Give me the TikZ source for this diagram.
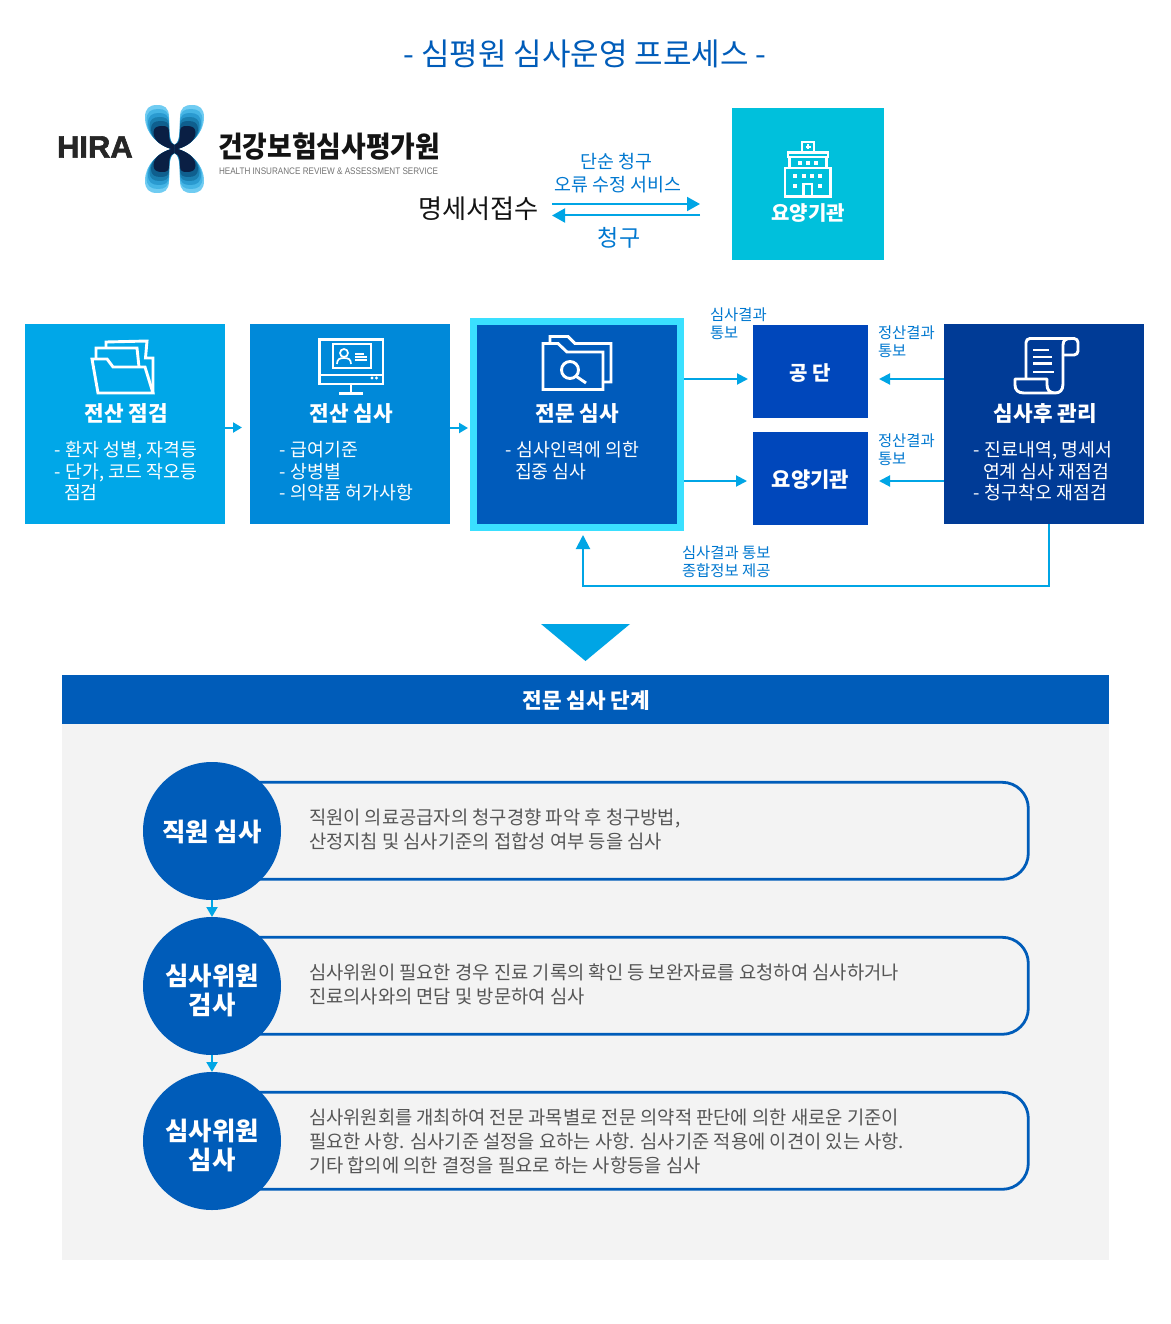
\documentclass[tikz,border=0pt]{standalone}
\usepackage{fontspec}
\usepackage{graphicx}
\setmainfont{Noto Sans CJK KR}
\newfontfamily\hirafont[BoldFeatures={FakeBold=2}]{Liberation Sans}
\usetikzlibrary{arrows.meta}
\definecolor{cyanline}{HTML}{00A5E5}
\definecolor{boxa}{HTML}{00A7E8}
\definecolor{boxb}{HTML}{0089D9}
\definecolor{boxc}{HTML}{005BBB}
\definecolor{boxd}{HTML}{0047BB}
\definecolor{boxe}{HTML}{003B96}
\definecolor{boxtop}{HTML}{00C0DC}
\definecolor{borderc}{HTML}{3AE0FF}
\definecolor{titleblue}{HTML}{005CB9}
\definecolor{labelblue}{HTML}{0078D0}
\definecolor{panelgray}{HTML}{F3F3F3}
\definecolor{bodygray}{HTML}{555555}
\definecolor{loga}{HTML}{70CCF2}
\definecolor{logb}{HTML}{45B5E5}
\definecolor{logc}{HTML}{2A9AD0}
\definecolor{logd}{HTML}{1A7FB0}
\definecolor{loge}{HTML}{0F5F8E}
\definecolor{logf}{HTML}{0A1F44}
\tikzset{
  sq/.style={draw=none,inner sep=0pt,outer sep=0pt,anchor=north west},
  txt/.style={inner sep=0pt,outer sep=0pt,anchor=west,align=left},
  ctxt/.style={inner sep=0pt,outer sep=0pt,anchor=center,align=center},
  boxtitle/.style={ctxt,text=white,font=\fontsize{21.3}{25}\selectfont\bfseries},
  boxbody/.style={txt,text=white,font=\fontsize{18.3}{21.5}\selectfont},
  small/.style={txt,text=labelblue,font=\fontsize{15.4}{18}\selectfont},
  body/.style={txt,text=bodygray,font=\fontsize{18.75}{24}\selectfont},
  circ/.style={circle,fill=titleblue,minimum size=138pt,inner sep=0pt,outer sep=0pt},
  circtext/.style={ctxt,text=white,font=\fontsize{25.4}{29.5}\selectfont\bfseries},
  frame/.style={rectangle,draw=titleblue,line width=2.8pt,rounded corners=26pt,inner sep=0pt,outer sep=0pt,anchor=north west,minimum width=828.3pt,minimum height=97pt},
  conn/.style={draw=cyanline,line width=2pt,-{Triangle[length=11pt,width=11pt]}},
  thin conn/.style={draw=cyanline,line width=2pt,-{Triangle[length=13pt,width=14pt]}},
  ico/.style={draw=white,line width=2.9pt,line join=miter},
  icor/.style={draw=white,line width=2.9pt,line join=round,rounded corners=4pt},
}
\begin{document}
\begin{tikzpicture}[x=1pt,y=-1pt]
\useasboundingbox[fill=white] (0,0) rectangle (1170,1324);
% title
\node[ctxt,text=titleblue,font=\fontsize{31}{36}\selectfont] (title) at (585,53.5) {- 심평원 심사운영 프로세스 -};
% logo
\node[txt,font=\fontsize{31}{34}\hirafont\bfseries,text=black!85] (hira) at (57,147) {HIRA};
\begin{scope}[shift={(174.5,149)}]
\foreach \hw/\hh/\col in {29.5/44/loga,28/40/logb,26.5/36/logc,25/32/logd,23.5/28/loge,21/23/logf}{
  \foreach \sx/\sy in {1/1,-1/1,1/-1,-1/-1}{
    \fill[\col,xscale=\sx,yscale=\sy] (-3,0)
      .. controls ({-0.55*\hw},{-0.1*\hh}) and ({-\hw},{-0.35*\hh}) .. ({-\hw},{-0.72*\hh})
      .. controls ({-\hw},{-0.92*\hh}) and ({-0.85*\hw},{-\hh}) .. ({-0.6*\hw},{-\hh})
      .. controls ({-0.35*\hw},{-\hh}) and (-5.5,{-0.95*\hh}) .. (-5.5,{-0.72*\hh})
      .. controls (-5.5,{-0.4*\hh}) and (-5,-6) .. (0,-4) -- (0,0) -- cycle;
  }
}
\end{scope}
\node[txt,font=\fontsize{29}{32}\selectfont\bfseries,text=black!92] (hiraname) at (218,146.5) {\scalebox{0.925}[1]{건강보험심사평가원}};
\node[txt,font=\fontsize{9.5}{11}\hirafont,text=black!55] (hirasub) at (219,171) {\scalebox{0.855}[1]{HEALTH INSURANCE REVIEW \& ASSESSMENT SERVICE}};
% top row
\node[ctxt,text=black!92,font=\fontsize{26.2}{30}\selectfont] (receipt) at (478.5,209) {명세서접수};
\node[sq,fill=boxtop,minimum width=152pt,minimum height=152pt] (topbox) at (732,108) {};
\node[ctxt,text=labelblue,font=\fontsize{18.4}{22.5}\selectfont] (simple) at (618.3,173) {단순 청구\hspace*{4pt}\\오류 수정 서비스};
\node[ctxt,text=labelblue,font=\fontsize{23}{26}\selectfont] (claim) at (619,237.5) {청구};
\coordinate (ta) at (552,204); \coordinate (tb) at (700,204);
\coordinate (tc) at (700,215.5); \coordinate (td) at (552,215.5);
\draw[thin conn] (ta) -- (tb);
\draw[thin conn] (tc) -- (td);
\node[ctxt,text=white,font=\fontsize{20}{24}\selectfont\bfseries] (toplabel) at (808,213) {요양기관};
% hospital icon
\draw[ico,line width=2.5pt] (802,152) rectangle (814,142);
\draw[white,line width=1.3pt] (808,144.5)--(808,149.5) (805.5,147)--(810.5,147);
\draw[ico,line width=2.5pt] (788,152.5) rectangle (828,157);
\draw[ico,line width=2.5pt] (789.5,157) -- (789.5,168) (826.5,157) -- (826.5,168);
\draw[ico,line width=2.5pt] (785,168) rectangle (830.5,196.5);
\draw[ico,line width=2.5pt] (803.5,196.5) -- (803.5,184) -- (812,184) -- (812,196.5);
\foreach \px/\py in {800/163,808/163,816/163,795/176.5,803.5/176.5,812/176.5,820/176.5,795/186,820/186}
  \fill[white] (\px-2,\py-2) rectangle (\px+2,\py+2);
% main boxes
\node[sq,fill=boxa,minimum width=200pt,minimum height=200pt] (b1) at (25,324) {};
\node[sq,fill=boxb,minimum width=200pt,minimum height=200pt] (b2) at (250,324) {};
\node[sq,fill=boxc,draw=borderc,line width=7pt,minimum width=207pt,minimum height=206pt] (b3) at (473.5,321.5) {};
\node[sq,fill=boxd,minimum width=115pt,minimum height=93pt] (b4) at (753,325) {};
\node[sq,fill=boxd,minimum width=115pt,minimum height=93pt] (b5) at (753,432) {};
\node[sq,fill=boxe,minimum width=200pt,minimum height=200pt] (b6) at (944,324) {};
% box texts
\node[boxtitle] (t1) at (126.3,413.5) {전산 점검};
\node[boxbody] (d1) at (54,471.5) {-\hspace{1.5pt} 환자 성별, 자격등\\-\hspace{1.5pt} 단가, 코드 작오등\\\hspace*{10pt}점검};
\node[boxtitle] (t2) at (351.5,413.5) {전산 심사};
\node[boxbody] (d2) at (279,471.5) {-\hspace{1.5pt} 급여기준\\-\hspace{1.5pt} 상병별\\-\hspace{1.5pt} 의약품 허가사항};
\node[boxtitle] (t3) at (577.5,413.5) {전문 심사};
\node[boxbody] (d3) at (505,460.5) {-\hspace{1.5pt} 심사인력에 의한\\\hspace*{10pt}집중 심사};
\node[boxtitle] (t6) at (1045.3,413.5) {심사후 관리};
\node[boxbody] (d6) at (973,471.5) {-\hspace{1.5pt} 진료내역, 명세서\\\hspace*{10pt}연계 심사 재점검\\-\hspace{1.5pt} 청구착오 재점검};
\node[ctxt,text=white,font=\fontsize{20}{24}\selectfont\bfseries] (t4) at (810,373) {공 단};
\node[ctxt,text=white,font=\fontsize{21}{25}\selectfont\bfseries] (t5) at (810.5,480) {요양기관};
% small labels
\node[small] (l1) at (710,324) {심사결과\\통보};
\node[small] (l2) at (878,342) {정산결과\\통보};
\node[small] (l3) at (878,450) {정산결과\\통보};
\node[small] (l4) at (682,562) {심사결과 통보\\종합정보 제공};
% connectors
\coordinate (e1) at (242,427.5); \coordinate (s1) at (225,427.5);
\coordinate (e2) at (468,428); \coordinate (s2) at (450,428);
\draw[conn,-{Triangle[length=9pt,width=10pt]}] (s1) -- (e1);
\draw[conn,-{Triangle[length=9pt,width=10pt]}] (s2) -- (e2);
\coordinate (s3) at (684,379); \coordinate (e3) at (748,379);
\coordinate (s4) at (684,481); \coordinate (e4) at (747,481);
\coordinate (s5) at (944,379); \coordinate (e5) at (879,379);
\coordinate (s6) at (944,481); \coordinate (e6) at (879,481);
\draw[conn] (s3) -- (e3);
\draw[conn] (s4) -- (e4);
\draw[conn] (s5) -- (e5);
\draw[conn] (s6) -- (e6);
\coordinate (fa) at (1049,524); \coordinate (fb) at (1049,586);
\coordinate (fc) at (583,586); \coordinate (fd) at (583,535);
\draw[conn,-{Triangle[length=14pt,width=14pt]}] (fa) -- (fb) -- (fc) -- (fd);
% folder icon
\draw[ico] (92,359) -- (107,359) -- (113,367) -- (145,367) -- (153,393) -- (98,393) -- cycle;
\draw[ico] (96,358) -- (96,348) -- (137,348) -- (139,367);
\draw[ico] (106,348) -- (106,342) -- (147,341) -- (145.5,358) -- (153,358) -- (153,393);
% monitor icon
\draw[ico] (319.5,339.5) rectangle (383,384);
\draw[ico] (319.5,375) -- (383,375);
\draw[ico,line width=1.9pt] (333,344) rectangle (371,368);
\draw[ico,line width=1.7pt] (344,353) circle (4);
\draw[ico,line width=1.7pt] (337,364) .. controls (337,359) and (340,358) .. (344,358) .. controls (348,358) and (351,359) .. (351,364);
\draw[ico,line width=1.3pt] (355,354) -- (364,354) (355,357) -- (367,357) (355,360) -- (367,360);
\fill[white] (372,378) circle (1.6) (376.5,378) circle (1.6);
\draw[ico] (351,384) -- (351,393) (339,393.5) -- (363,393.5);
% search folder icon
\draw[ico] (550,342) -- (550,336.5) -- (568,336.5) -- (575,343.5) -- (611,343.5) -- (611,382) -- (603,382);
\draw[ico] (543,343.5) -- (558,343.5) -- (567,352) -- (603,352) -- (603,389.5) -- (543,389.5) -- cycle;
\draw[ico] (570,370) circle (8.5);
\draw[ico] (576.5,376.5) -- (586,383);
% scroll icon
\draw[icor] (1026,379) -- (1026,338.5) -- (1078,338.5) -- (1078,355) -- (1063,355);
\draw[ico,line join=round] (1063,355) -- (1063,345) .. controls (1063,340) and (1066,338.5) .. (1071,338.5);
\draw[ico,line join=round] (1063,355) -- (1063,384) .. controls (1063,390) and (1060,393) .. (1055,393) -- (1024,393) .. controls (1018,393) and (1015,390) .. (1015,385) -- (1015,379) -- (1047,379) -- (1047,385) .. controls (1047,390) and (1050,393) .. (1055,393);
\draw[ico,line width=2.4pt] (1033,350) -- (1049,350) (1033,357) -- (1052,357) (1033,363.5) -- (1052,363.5) (1033,372) -- (1054,372);
% triangle
\fill[cyanline] (541,624) -- (630,624) -- (585.5,661) -- cycle;
% panel
\node[sq,fill=panelgray,minimum width=1047pt,minimum height=536pt] (panel) at (62,724) {};
\node[sq,fill=titleblue,minimum width=1047pt,minimum height=49pt] (banner) at (62,675) {};
\node[ctxt,text=white,font=\fontsize{21.3}{25}\selectfont\bfseries] (bannertext) at (586.3,701) {전문 심사 단계};
% frames
\node[frame] (f1) at (200,782.3) {};
\node[frame] (f2) at (200,937.3) {};
\node[frame] (f3) at (200,1092.3) {};
% circles
\node[circ] (c1) at (212,831) {};
\node[circ] (c2) at (212,986) {};
\node[circ] (c3) at (212,1141) {};
\node[circtext] (c1t) at (212,832) {직원 심사};
\node[circtext] (c2t) at (212,990.5) {심사위원\\검사};
\node[circtext] (c3t) at (212,1145.5) {심사위원\\심사};
\draw[draw=cyanline,line width=2pt,-{Triangle[length=10pt,width=11pt]}] (c1) -- (c2);
\draw[draw=cyanline,line width=2pt,-{Triangle[length=10pt,width=11pt]}] (c2) -- (c3);
% body
\node[body] (x1) at (309,829.5) {직원이 의료공급자의 청구경향 파악 후 청구방법,\\산정지침 및 심사기준의 접합성 여부 등을 심사};
\node[body] (x2) at (309,984.5) {심사위원이 필요한 경우 진료 기록의 확인 등 보완자료를 요청하여 심사하거나\\진료의사와의 면담 및 방문하여 심사};
\node[body] (x3) at (309,1141) {심사위원회를 개최하여 전문 과목별로 전문 의약적 판단에 의한 새로운 기준이\\필요한 사항. 심사기준 설정을 요하는 사항. 심사기준 적용에 이견이 있는 사항.\\기타 합의에 의한 결정을 필요로 하는 사항등을 심사};
\end{tikzpicture}
\end{document}
